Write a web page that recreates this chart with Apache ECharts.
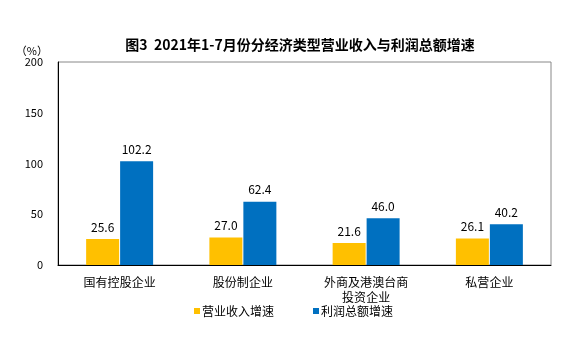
<!DOCTYPE html>
<html><head><meta charset="utf-8">
<script src="https://cdn.jsdelivr.net/npm/echarts@6/dist/echarts.min.js"></script>
<style>html,body{margin:0;padding:0;background:#fff}#c{width:580px;height:346px}</style>
</head><body><div id="c"></div>
<script>
const categories = ['国有控股企业', '股份制企业', '外商及港澳台商\n投资企业', '私营企业'];
const revenueGrowth = [25.6, 27.0, 21.6, 26.1];
const profitGrowth = [102.2, 62.4, 46.0, 40.2];
const seriesNames = ['营业收入增速', '利润总额增速'];
const yTicks = [0, 50, 100, 150, 200];

const font = '"Noto Sans CJK SC", sans-serif';
const chart = echarts.init(document.getElementById('c'), null, {renderer: 'canvas'});
chart.setOption({
  animation: false,
  backgroundColor: '#fff',
  title: {
    text: '图3  2021年1-7月份分经济类型营业收入与利润总额增速',
    left: 295, top: 33, textAlign: 'center',
    textStyle: {fontFamily: font, fontSize: 14, fontWeight: 'bold', color: '#000'}
  },
  legend: {
    bottom: 24, left: 189, itemGap: 39, itemWidth: 6, itemHeight: 6, icon: 'rect',
    textStyle: {fontFamily: font, fontSize: 12, color: '#000', padding: [0, 0, 0, -3]},
    data: seriesNames
  },
  grid: {left: 58, right: 29, top: 62, height: 203, show: true, borderColor: '#888', borderWidth: 1},
  xAxis: {
    type: 'category', data: categories,
    axisLine: {lineStyle: {color: '#000'}}, axisTick: {show: false},
    axisLabel: {fontFamily: font, fontSize: 12, color: '#000', margin: 10, lineHeight: 15}
  },
  yAxis: {
    type: 'value', min: 0, max: 200, interval: 50,
    name: '（%）', nameGap: 3, nameTextStyle: {fontFamily: font, fontSize: 11, color: '#000', align: 'right', padding: [0, 10, 0, 0]},
    axisLine: {show: true, lineStyle: {color: '#000'}}, axisTick: {show: false},
    splitLine: {show: false},
    axisLabel: {fontFamily: font, fontSize: 11, color: '#000', margin: 15,
      formatter: v => yTicks.includes(v) ? String(v) : ''}
  },
  series: [
    {name: seriesNames[0], type: 'bar', data: revenueGrowth, barWidth: 33, barGap: '3%',
     itemStyle: {color: '#FFC000'},
     label: {show: true, position: 'top', distance: 6, fontFamily: font, fontSize: 12, color: '#000', formatter: p => p.value.toFixed(1)}},
    {name: seriesNames[1], type: 'bar', data: profitGrowth, barWidth: 33,
     itemStyle: {color: '#0070C0'},
     label: {show: true, position: 'top', distance: 6, fontFamily: font, fontSize: 12, color: '#000', formatter: p => p.value.toFixed(1)}}
  ]
});
</script></body></html>
